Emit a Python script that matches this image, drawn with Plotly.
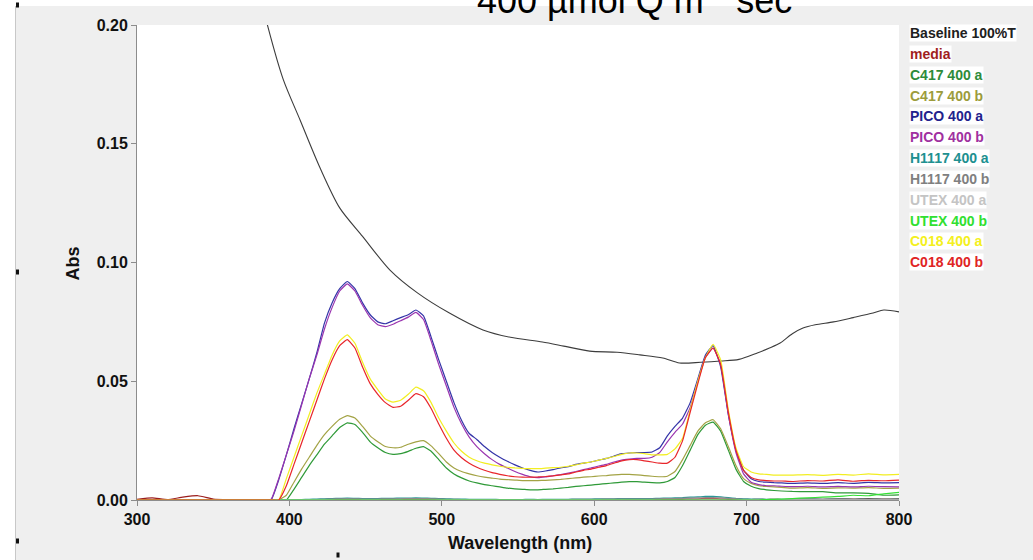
import plotly.graph_objects as go

# ---------------- data ----------------
series_names = ["Baseline 100%T", "media", "C417 400 a", "C417 400 b", "PICO 400 a",
                "PICO 400 b", "H1117 400 a", "H1117 400 b", "UTEX 400 a", "UTEX 400 b",
                "C018 400 a", "C018 400 b"]

baseline_wl = [370, 380, 386, 396, 407, 420, 433, 448, 466, 484, 505, 527, 545, 566, 580,
               597, 615, 630, 645, 656, 670, 683, 695, 707, 715, 722, 730, 737, 745, 757,
               770, 783, 790, 800]
baseline_abs = [0.26, 0.215, 0.199, 0.177, 0.160, 0.140, 0.123, 0.111, 0.0968, 0.0872,
                0.0787, 0.0716, 0.0685, 0.0665, 0.0648, 0.0627, 0.0622, 0.0611, 0.0598,
                0.0577, 0.0580, 0.0585, 0.0592, 0.0619, 0.0640, 0.0661, 0.0700, 0.0724,
                0.0738, 0.0750, 0.0768, 0.0787, 0.0800, 0.0792]

wavelength = [300, 310, 320, 330, 340, 350, 360, 370, 380,
              383, 388, 393, 398, 403, 408, 413, 418, 423, 428,
              433, 438, 443, 448, 453, 458, 463, 468, 473, 478,
              483, 488, 493, 498, 503, 508, 513, 518, 523, 528,
              533, 538, 543, 548, 553, 558, 563, 568, 573, 578,
              583, 588, 593, 598, 603, 608, 613, 618, 623, 628,
              633, 638, 643, 648, 653, 658, 663, 668, 673, 678,
              683, 688, 693, 698, 703, 708, 713, 718, 723,
              730, 740, 750, 760, 770, 780, 790, 800]

media = [0.0003, 0.0009, 0.0002, 0.0012, 0.0018, 0.0004, 0.0001, 0.0, 0.0002,
         0.0001, 0.0002, 0.0001, 0.0002, 0.0001, 0.0002, 0.0001, 0.0002, 0.0001, 0.0002,
         0.0002, 0.0003, 0.0002, 0.0002, 0.0003, 0.0002, 0.0002, 0.0003, 0.0002, 0.0002,
         0.0002, 0.0003, 0.0002, 0.0002, 0.0001, 0.0002, 0.0001, 0.0002, 0.0001, 0.0002,
         0.0001, 0.0002, 0.0001, 0.0002, 0.0001, 0.0002, 0.0001, 0.0002, 0.0001, 0.0002,
         0.0002, 0.0001, 0.0002, 0.0002, 0.0001, 0.0002, 0.0002, 0.0001, 0.0002, 0.0002,
         0.0002, 0.0002, 0.0003, 0.0002, 0.0003, 0.0003, 0.0004, 0.0004, 0.0005, 0.0005,
         0.0004, 0.0003, 0.0003, 0.0002, 0.0002, 0.0003, 0.0002, 0.0003, 0.0002,
         0.0003, 0.0004, 0.0003, 0.0005, 0.0004, 0.0006, 0.0004, 0.0005]

c417_a = [0, 0, 0, 0, 0, 0, 0, 0, 0,
          0, 0, 0, 0, 0.0045, 0.0095, 0.0145, 0.019, 0.0235, 0.027,
          0.0305, 0.0325, 0.0318, 0.0285, 0.0245, 0.022, 0.020, 0.0192, 0.0195, 0.0205,
          0.0218, 0.0225, 0.0205, 0.017, 0.0135, 0.011, 0.0093, 0.008, 0.0072, 0.0065,
          0.006, 0.0055, 0.005, 0.0047, 0.0045, 0.0043, 0.0043, 0.0045, 0.0047, 0.005,
          0.0053, 0.0057, 0.006, 0.0063, 0.0066, 0.0069, 0.0072, 0.0075, 0.0077, 0.0077,
          0.0075, 0.0073, 0.0072, 0.0078, 0.0095, 0.0145, 0.021, 0.0275, 0.0315, 0.0328,
          0.029, 0.021, 0.013, 0.0078, 0.0058, 0.0048, 0.0043, 0.004, 0.0038,
          0.0036, 0.0035, 0.0035, 0.003, 0.003, 0.0028, 0.002, 0.0022]

c417_b = [0, 0, 0, 0, 0, 0, 0, 0, 0,
          0, 0, 0, 0.002, 0.0075, 0.013, 0.018, 0.023, 0.0275, 0.031,
          0.034, 0.0355, 0.0345, 0.031, 0.027, 0.0245, 0.0225, 0.022, 0.0222, 0.0235,
          0.0245, 0.025, 0.0228, 0.0195, 0.016, 0.0135, 0.012, 0.011, 0.0102, 0.0096,
          0.0092, 0.0088, 0.0086, 0.0084, 0.0082, 0.0082, 0.0082, 0.0083, 0.0085, 0.0087,
          0.009, 0.0093, 0.0096, 0.0098, 0.0101, 0.0103, 0.0106, 0.0108, 0.0108, 0.0106,
          0.0103, 0.010, 0.0098, 0.010, 0.012, 0.017, 0.023, 0.029, 0.0325, 0.0338,
          0.030, 0.0225, 0.0145, 0.009, 0.007, 0.006, 0.0057, 0.0055, 0.0053,
          0.005, 0.0052, 0.0049, 0.0051, 0.005, 0.0052, 0.0049, 0.005]

pico_a = [0, 0, 0, 0, 0, 0, 0, 0, 0,
          0, 0, 0.0085, 0.019, 0.030, 0.0405, 0.051, 0.062, 0.0745, 0.083,
          0.089, 0.092, 0.089, 0.083, 0.078, 0.075, 0.0742, 0.0755, 0.0768, 0.078,
          0.080, 0.0775, 0.0686, 0.059, 0.050, 0.041, 0.0335, 0.028, 0.0255, 0.0225,
          0.020, 0.018, 0.0163, 0.0148, 0.0135, 0.0125, 0.0118, 0.0122, 0.0128, 0.0135,
          0.014, 0.015, 0.0155, 0.016, 0.0168, 0.0175, 0.0185, 0.0195, 0.0198, 0.020,
          0.020, 0.0202, 0.022, 0.027, 0.031, 0.0345, 0.041, 0.051, 0.061, 0.065,
          0.056, 0.036, 0.021, 0.0125, 0.009, 0.0078, 0.0075, 0.0073, 0.0072,
          0.007, 0.0072, 0.007, 0.0073, 0.007, 0.0074, 0.0072, 0.0073]

pico_b = [0, 0, 0, 0, 0, 0, 0, 0, 0,
          0, 0.0003, 0.009, 0.019, 0.029, 0.040, 0.051, 0.061, 0.072, 0.081,
          0.088, 0.091, 0.088, 0.082, 0.0768, 0.0738, 0.073, 0.074, 0.0755, 0.077,
          0.079, 0.076, 0.067, 0.057, 0.048, 0.039, 0.032, 0.0265, 0.0225, 0.0195,
          0.017, 0.015, 0.0135, 0.012, 0.0108, 0.0098, 0.0094, 0.0097, 0.0102, 0.0107,
          0.0113, 0.012, 0.0128, 0.0135, 0.0143, 0.015, 0.016, 0.0168, 0.0172, 0.0175,
          0.0175, 0.018, 0.020, 0.0245, 0.0285, 0.032, 0.039, 0.050, 0.060, 0.064,
          0.057, 0.036, 0.020, 0.011, 0.0075, 0.0065, 0.006, 0.006, 0.0058,
          0.0056, 0.0058, 0.0055, 0.0057, 0.0055, 0.0058, 0.0056, 0.0055]

h1117_a = [0, 0, 0, 0, 0, 0, 0, 0, 0,
           0, 0, 0, 0.0001, 0.0002, 0.0002, 0.0003, 0.0004, 0.0005, 0.0006,
           0.0007, 0.0008, 0.0007, 0.0006, 0.0006, 0.0006, 0.0007, 0.0007, 0.0008, 0.0008,
           0.0009, 0.0008, 0.0007, 0.0006, 0.0005, 0.0004, 0.0004, 0.0003, 0.0003, 0.0003,
           0.0003, 0.0002, 0.0002, 0.0002, 0.0002, 0.0003, 0.0002, 0.0003, 0.0003, 0.0003,
           0.0003, 0.0004, 0.0004, 0.0004, 0.0005, 0.0005, 0.0005, 0.0006, 0.0006, 0.0006,
           0.0006, 0.0006, 0.0007, 0.0008, 0.0009, 0.0010, 0.0012, 0.0013, 0.0015, 0.0015,
           0.0013, 0.0010, 0.0007, 0.0005, 0.0004, 0.0004, 0.0003, 0.0003, 0.0003,
           0.0003, 0.0004, 0.0003, 0.0004, 0.0003, 0.0004, 0.0003, 0.0004]

h1117_b = [0, 0, 0, 0, 0, 0, 0, 0, 0,
           0, 0, 0, 0, 0.0001, 0.0001, 0.0002, 0.0002, 0.0003, 0.0004,
           0.0005, 0.0005, 0.0005, 0.0004, 0.0004, 0.0004, 0.0005, 0.0005, 0.0005, 0.0006,
           0.0006, 0.0006, 0.0005, 0.0004, 0.0003, 0.0003, 0.0002, 0.0002, 0.0002, 0.0002,
           0.0002, 0.0001, 0.0001, 0.0001, 0.0001, 0.0002, 0.0001, 0.0002, 0.0002, 0.0002,
           0.0002, 0.0003, 0.0003, 0.0003, 0.0003, 0.0004, 0.0004, 0.0004, 0.0004, 0.0004,
           0.0004, 0.0004, 0.0005, 0.0006, 0.0006, 0.0007, 0.0008, 0.0009, 0.0010, 0.0010,
           0.0009, 0.0007, 0.0005, 0.0003, 0.0002, 0.0002, 0.0002, 0.0002, 0.0002,
           0.0002, 0.0002, 0.0002, 0.0003, 0.0002, 0.0002, 0.0003, 0.0002]

utex_a = [0, 0, 0, 0, 0, 0, 0, 0, 0,
          0, 0, 0, 0, 0, 0, 0, 0, 0, 0,
          0, 0, 0, 0, 0, 0, 0, 0, 0, 0,
          0, 0, 0, 0, 0, 0, 0, 0, 0, 0,
          0, 0, 0, 0, 0, 0, 0, 0, 0, 0,
          0, 0, 0, 0, 0, 0, 0, 0, 0, 0,
          0, 0, 0, 0, 0, 0, 0, 0, 0, 0,
          0, 0, 0, 0, 0, 0, 0, 0, 0,
          0, 0, 0, 0, 0, 0, 0, 0]

utex_b = [0, 0, 0, 0, 0, 0, 0, 0, 0,
          0, 0, 0, 0, 0, 0, 0, 0, 0, 0,
          0, 0, 0, 0, 0, 0, 0, 0, 0, 0,
          0, 0, 0, 0, 0, 0, 0, 0, 0, 0,
          0, 0, 0, 0, 0, 0, 0, 0, 0, 0,
          0, 0, 0, 0, 0, 0, 0, 0, 0, 0,
          0, 0, 0, 0, 0, 0, 0, 0, 0, 0,
          0, 0, 0, 0, 0, 0, 0.0002, 0.0003, 0.0004,
          0.0006, 0.0009, 0.0012, 0.0015, 0.002, 0.0018, 0.0026, 0.0032]

c018_a = [0, 0, 0, 0, 0, 0, 0, 0, 0,
          0, 0, 0, 0.009, 0.018, 0.027, 0.036, 0.045, 0.053, 0.061,
          0.067, 0.0695, 0.066, 0.058, 0.051, 0.0465, 0.0425, 0.0412, 0.042, 0.0445,
          0.0475, 0.046, 0.041, 0.0345, 0.029, 0.024, 0.0205, 0.018, 0.0165, 0.0155,
          0.0148, 0.0142, 0.0138, 0.0135, 0.0133, 0.0132, 0.0132, 0.0134, 0.0136, 0.0138,
          0.0142, 0.0148, 0.0155, 0.016, 0.0168, 0.0175, 0.0183, 0.0192, 0.0198, 0.0198,
          0.0195, 0.019, 0.019, 0.0192, 0.0215, 0.026, 0.038, 0.050, 0.060, 0.0655,
          0.059, 0.038, 0.022, 0.014, 0.0118, 0.011, 0.0108, 0.0105, 0.0105,
          0.0105, 0.0107, 0.0104, 0.0108, 0.0105, 0.011, 0.0106, 0.0108]

c018_b = [0, 0, 0, 0, 0, 0, 0, 0, 0,
          0, 0, 0, 0.006, 0.015, 0.024, 0.033, 0.042, 0.051, 0.059,
          0.065, 0.0675, 0.064, 0.056, 0.049, 0.0445, 0.041, 0.039, 0.0395, 0.042,
          0.0448, 0.0435, 0.0385, 0.032, 0.026, 0.021, 0.0178, 0.0155, 0.0138, 0.0125,
          0.0115, 0.0108, 0.0102, 0.0098, 0.0096, 0.0096, 0.0097, 0.0099, 0.0102, 0.0106,
          0.011, 0.0118, 0.0125, 0.013, 0.0138, 0.0145, 0.0155, 0.0165, 0.017, 0.017,
          0.0165, 0.016, 0.0155, 0.0155, 0.018, 0.025, 0.037, 0.049, 0.060, 0.064,
          0.057, 0.037, 0.021, 0.0125, 0.0095, 0.0085, 0.0082, 0.008, 0.008,
          0.0078, 0.0082, 0.008, 0.0085, 0.0079, 0.0083, 0.0081, 0.0084]

x_ticks = [300, 400, 500, 600, 700, 800]
y_ticks = [0.00, 0.05, 0.10, 0.15, 0.20]

line_colors = ["#3c3c3c", "#9b1c1c", "#2f9a38", "#a3a345", "#3434a8", "#9a35b0",
               "#2a9696", "#8a8a8a", "#c8c8c8", "#35e035", "#f2ee22", "#e8262b"]
label_colors = ["#202020", "#a01e1e", "#2e8b3a", "#9c9c3c", "#22228c", "#a030a0",
                "#209090", "#808080", "#c4c4c4", "#30e030", "#f4f020", "#e02424"]

# ---------------- figure ----------------
W, H = 1033, 560
L, R, T, B = 137, 134, 25, 60
PW, PH = W - L - R, H - T - B


def px_x(px):
    return (px - L) / PW


def px_y(py):
    return (H - B - py) / PH


fig = go.Figure()

fig.add_trace(go.Scatter(x=baseline_wl, y=baseline_abs, mode="lines",
                         line=dict(color=line_colors[0], width=1.1,
                                   shape="spline", smoothing=0.8),
                         name=series_names[0], showlegend=False))

series_values = [media, c417_a, c417_b, pico_a, pico_b, h1117_a, h1117_b,
                 utex_a, utex_b, c018_a, c018_b]
for i, vals in enumerate(series_values, start=1):
    fig.add_trace(go.Scatter(x=wavelength, y=vals, mode="lines",
                             line=dict(color=line_colors[i], width=1.2,
                                       shape="spline", smoothing=0.4),
                             name=series_names[i], showlegend=False))

FONT = "Liberation Sans, Arial, sans-serif"

annotations = []
# legend as coloured labels
for i, name in enumerate(series_names):
    annotations.append(dict(
        x=px_x(909), y=px_y(33.3 + 20.8 * i), xref="paper", yref="paper",
        xanchor="left", yanchor="middle", showarrow=False, text=name,
        bgcolor="white", borderpad=0,
        font=dict(family=FONT, size=14, color=label_colors[i], weight="bold")))

# axis titles
annotations.append(dict(x=px_x(72), y=px_y(263.5), xref="paper", yref="paper",
                        text="Abs", textangle=-90, showarrow=False,
                        xanchor="center", yanchor="middle",
                        font=dict(family=FONT, size=18, color="#111", weight="bold")))
annotations.append(dict(x=px_x(520), y=px_y(543), xref="paper", yref="paper",
                        text="Wavelength (nm)", showarrow=False,
                        xanchor="center", yanchor="middle",
                        font=dict(family=FONT, size=18, color="#111", weight="bold")))
# cut-off title at the very top
annotations.append(dict(x=px_x(646), y=px_y(23), xref="paper", yref="paper",
                        text="400 µmol Q m<sup>-2</sup> sec<sup>-1</sup>",
                        showarrow=False, xanchor="center", yanchor="bottom",
                        font=dict(family=FONT, size=36, color="#000")))

shapes = [
    # white strips outside the grey screenshot frame
    dict(type="rect", xref="paper", yref="paper", x0=px_x(0), x1=px_x(W),
         y0=px_y(0), y1=px_y(6), fillcolor="white", line=dict(width=0), layer="below"),
    dict(type="rect", xref="paper", yref="paper", x0=px_x(0), x1=px_x(15),
         y0=px_y(0), y1=px_y(H), fillcolor="white", line=dict(width=0), layer="below"),
    dict(type="line", xref="paper", yref="paper", x0=px_x(15.5), x1=px_x(15.5),
         y0=px_y(6), y1=px_y(H), line=dict(color="#c8c8c8", width=1), layer="below"),
]
for (hx, hy) in [(17.5, 5), (17.5, 272), (17.5, 541), (338, 555)]:
    shapes.append(dict(type="rect", xref="paper", yref="paper",
                       x0=px_x(hx - 1.5), x1=px_x(hx + 1.5),
                       y0=px_y(hy - 2.5), y1=px_y(hy + 2.5),
                       fillcolor="#111", line=dict(width=0)))

fig.update_layout(
    width=W, height=H, autosize=False,
    margin=dict(l=L, r=R, t=T, b=B, pad=0),
    paper_bgcolor="#efefef", plot_bgcolor="white",
    showlegend=False,
    annotations=annotations, shapes=shapes,
    xaxis=dict(range=[300, 800], tickvals=x_ticks, ticktext=[str(v) for v in x_ticks],
               showgrid=False, zeroline=False, showline=True, linecolor="#8c8c8c",
               linewidth=1, ticks="outside", ticklen=5, tickcolor="#8c8c8c",
               tickfont=dict(family=FONT, size=16, color="#111", weight="bold")),
    yaxis=dict(range=[0, 0.20], tickvals=y_ticks, ticktext=["%.2f" % v for v in y_ticks],
               showgrid=False, zeroline=False, showline=True, linecolor="#8c8c8c",
               linewidth=1, ticks="outside", ticklen=5, tickcolor="#8c8c8c",
               tickfont=dict(family=FONT, size=16, color="#111", weight="bold")),
)

fig.write_html("out.html")
